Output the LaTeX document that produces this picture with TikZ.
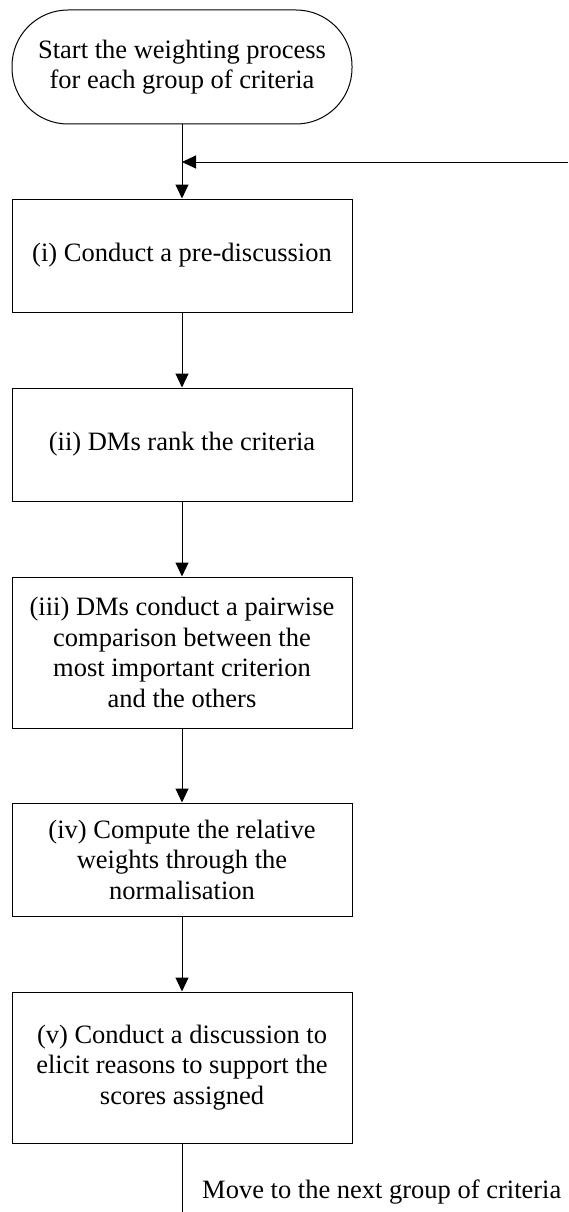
\documentclass[tikz,border=0pt]{standalone}
\usepackage{fontspec}
\setmainfont{Liberation Serif}
\usetikzlibrary{arrows.meta}
\begin{document}
\begin{tikzpicture}[x=1pt,y=1pt,
  txt/.style={font=\fontsize{26.5}{30.5}\selectfont},
  box/.style={draw, line width=1pt, minimum width=340pt, align=center, inner sep=0pt, txt},
  term/.style={box, rounded corners=56pt},
  arr/.style={-{Triangle[length=14pt,width=13pt]}, line width=1pt},
  plain/.style={line width=1pt}]
\useasboundingbox (0,0) rectangle (568,-1212);
\node[term, minimum height=114pt] (s) at (182,-67) {Start the weighting process\\for each group of criteria};
\node[box, minimum height=113pt] (b1) at (182,-255.5) {(i) Conduct a pre-discussion};
\node[box, minimum height=113pt] (b2) at (182,-444.5) {(ii) DMs rank the criteria};
\node[box, minimum height=151pt] (b3) at (182,-652.5) {(iii) DMs conduct a pairwise\\comparison between the\\most important criterion\\and the others};
\node[box, minimum height=113pt] (b4) at (182,-859.5) {(iv) Compute the relative\\weights through the\\normalisation};
\node[box, minimum height=151pt] (b5) at (182,-1067.5) {(v) Conduct a discussion to\\elicit reasons to support the\\scores assigned};
\coordinate (j) at (182,-162);
\coordinate (r) at (568,-162);
\coordinate (e) at (182,-1212);
\node[txt, anchor=west, inner sep=0pt] (lbl) at (202,-1192) {Move to the next group of criteria};
\draw[arr] (s) -- (b1);
\draw[arr] (r) -- (j);
\draw[arr] (b1) -- (b2);
\draw[arr] (b2) -- (b3);
\draw[arr] (b3) -- (b4);
\draw[arr] (b4) -- (b5);
\draw[plain] (b5) -- (e);
\end{tikzpicture}
\end{document}
